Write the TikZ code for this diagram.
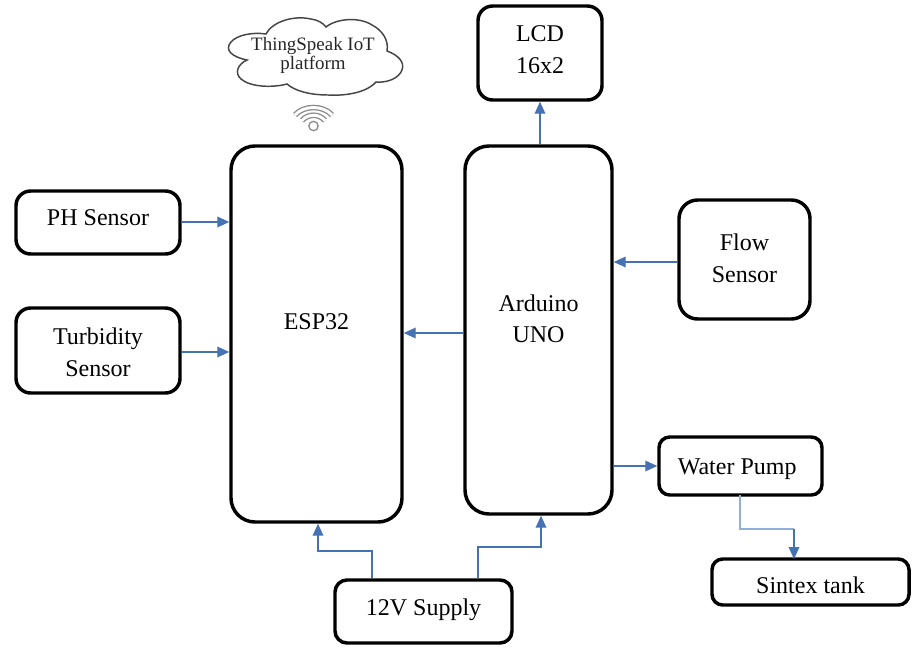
\documentclass[tikz,border=0pt]{standalone}
\usepackage{fontspec}
\setmainfont{Liberation Serif}
\usetikzlibrary{arrows.meta}
\definecolor{linkblue}{RGB}{68,114,178}
\definecolor{paleblue}{RGB}{143,176,216}
\definecolor{cloudgray}{RGB}{70,70,70}
\definecolor{wifigray}{RGB}{140,140,140}
% text sits a little off the middle of most boxes
\newcommand{\liftby}[1]{\rule[-#1]{0pt}{0pt}}
\newcommand{\dropby}[1]{\rule{0pt}{#1}}
\tikzset{
  blockbox/.style={draw=black,line width=2.6pt,rounded corners=11pt,align=center,inner sep=0pt,font=\fontsize{18}{23.6}\selectfont},
  link/.style={draw=linkblue,line width=1pt,-{Triangle[length=9pt,width=8pt]}},
  wifiarc/.style={draw=wifigray,line width=1pt,double=white,double distance=2.2pt}
}
\begin{document}
\begin{tikzpicture}[x=0.75pt,y=0.75pt,yscale=-1,xscale=1]
\useasboundingbox (0,0) rectangle (919,653);

% Blocks
\node [blockbox,minimum width=123pt,minimum height=47.25pt] (phsensor) at (98,222.5) {PH Sensor\liftby{8pt}};
\node [blockbox,minimum width=123pt,minimum height=63.75pt] (turbidity) at (98,350.5) {\dropby{15pt}Turbidity\\Sensor};
\node [blockbox,minimum width=128.25pt,minimum height=282pt,rounded corners=18pt] (esp) at (316.5,334) {ESP32\liftby{18pt}};
\node [blockbox,minimum width=110.25pt,minimum height=276pt,rounded corners=18pt] (arduino) at (538.5,330) {Arduino\\UNO\liftby{17pt}};
\node [blockbox,minimum width=93pt,minimum height=70.5pt] (lcd) at (540,53) {LCD\\16x2\liftby{5pt}};
\node [blockbox,minimum width=98.25pt,minimum height=89.25pt,rounded corners=14pt] (flow) at (744.5,259.5) {Flow\\Sensor\liftby{2pt}};
\node [blockbox,minimum width=122.25pt,minimum height=43.5pt,rounded corners=8pt] (pump) at (740.5,466) {\dropby{16pt}Water Pump\hspace*{5pt}};
\node [blockbox,minimum width=147.75pt,minimum height=34.5pt,rounded corners=8pt] (tank) at (810.5,582) {\dropby{18pt}Sintex tank};
\node [blockbox,minimum width=132.75pt,minimum height=47.25pt,rounded corners=9pt] (supply) at (423.5,611.5) {12V Supply\liftby{6pt}};

% Bend points
\coordinate (pumpout) at (740,495);
\coordinate (pumpmid) at (740,529);
\coordinate (tankmid) at (794,529);
\coordinate (tankin) at (794,559);
\coordinate (espbend) at (318,551);
\coordinate (leftbend) at (372,551);
\coordinate (ardbend) at (541,547);
\coordinate (rightbend) at (478,547);

% Links
\draw [link] (phsensor.east |- 0,222) -- (esp.west |- 0,222);
\draw [link] (turbidity.east |- 0,352) -- (esp.west |- 0,352);
\draw [link] (arduino.west |- 0,333) -- (esp.east |- 0,333);
\draw [link] (arduino.north -| lcd.south) -- (lcd.south);
\draw [link] (flow.west |- 0,262) -- (arduino.east |- 0,262);
\draw [link] (arduino.east |- pump.west) -- (pump.west);
\draw [draw=paleblue,line width=1pt] (pumpout) -- (pumpmid) -- (tankmid);
\draw [link] (tankmid) -- (tankin);
\draw [link] (leftbend |- supply.north) -- (leftbend) -- (espbend) -- (espbend |- esp.south);
\draw [link] (rightbend |- supply.north) -- (rightbend) -- (ardbend) -- (ardbend |- arduino.south);

% Cloud
\draw [draw=cloudgray,line width=1.1pt,fill=white] (247,60) .. controls (232,57) and (224,50) .. (231,42) .. controls (237,35) and (252,32) .. (266,34)
  .. controls (272,22) and (293,15) .. (311,19) .. controls (318,20) and (323,23) .. (326,27)
  .. controls (337,18) and (360,17) .. (372,25) .. controls (382,30) and (389,40) .. (387,51)
  .. controls (398,55) and (405,62) .. (402,70) .. controls (399,78) and (388,83) .. (376,82)
  .. controls (366,93) and (345,96) .. (328,95) .. controls (310,95) and (295,91) .. (287,84)
  .. controls (272,88) and (250,87) .. (241,79) .. controls (234,73) and (238,64) .. (247,60) -- cycle;
\node [align=center,inner sep=0pt,text=black!85,font=\fontsize{14.2}{14.2}\selectfont] (cloudtext) at (313,55) {ThingSpeak IoT\\platform};

% Wifi sign
\draw [wifiarc] (295,115) .. controls (304,105) and (323,105) .. (332,115);
\draw [wifiarc] (302,120.5) .. controls (308,113.5) and (319,113.5) .. (325,120.5);
\node [circle,draw=wifigray,line width=1pt,fill=white,minimum size=7pt,inner sep=0pt] (wifidot) at (313.5,126) {};

\end{tikzpicture}
\end{document}
